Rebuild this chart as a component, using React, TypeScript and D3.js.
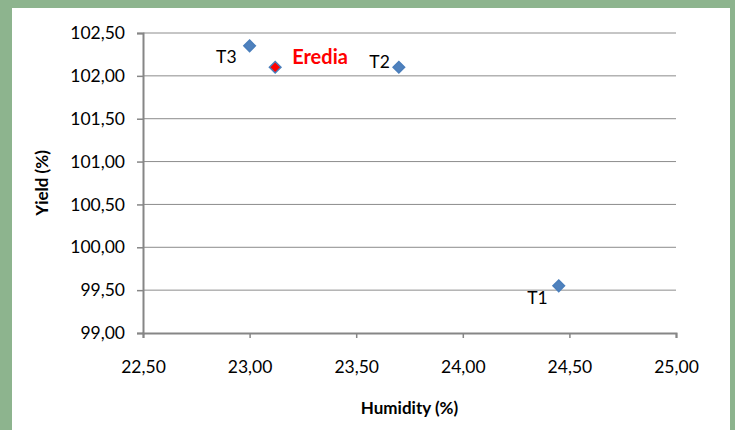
import * as d3 from 'd3';
import { useEffect, useRef } from 'react';

// values
const names = ['T1', 'T2', 'T3', 'Eredia'];
const humidity = [24.45, 23.7, 23.0, 23.12];
const yieldPct = [99.55, 102.1, 102.35, 102.1];
const xTicks = [22.5, 23.0, 23.5, 24.0, 24.5, 25.0];
const yTicks = [99.0, 99.5, 100.0, 100.5, 101.0, 101.5, 102.0, 102.5];

const W = 735;
const H = 430;
const margin = { top: 33, right: 59, bottom: 97, left: 143 };
const font = 'Lato, "Open Sans", sans-serif';
const fmt = (v: number) => v.toFixed(2).replace('.', ',');

const App = () => {
  const ref = useRef<SVGSVGElement>(null);

  useEffect(() => {
    const svg = d3.select(ref.current);
    svg.selectAll('*').remove();

    svg.append('rect').attr('width', W).attr('height', H).attr('fill', '#8db48e');
    svg.append('rect').attr('x', 12).attr('y', 8).attr('width', 718).attr('height', H - 8).attr('fill', '#fff');

    const x = d3.scaleLinear().domain([22.5, 25]).range([margin.left, W - margin.right]);
    const y = d3.scaleLinear().domain([99, 102.5]).range([H - margin.bottom, margin.top]);

    // gridlines
    svg.append('g')
      .selectAll('line')
      .data(yTicks.slice(1))
      .enter()
      .append('line')
      .attr('x1', x(22.5))
      .attr('x2', x(25))
      .attr('y1', (d) => y(d))
      .attr('y2', (d) => y(d))
      .attr('stroke', '#8c8c8c')
      .attr('stroke-width', 1);

    const yAxis = svg.append('g')
      .attr('transform', 'translate(' + x(22.5) + ',0)')
      .call(d3.axisLeft(y).tickValues(yTicks).tickFormat((d) => fmt(+d)).tickSize(6).tickPadding(12));
    const xAxis = svg.append('g')
      .attr('transform', 'translate(0,' + y(99) + ')')
      .call(d3.axisBottom(x).tickValues(xTicks).tickFormat((d) => fmt(+d)).tickSize(5).tickPadding(23));

    [yAxis, xAxis].forEach((a) => {
      a.select('.domain').attr('stroke', '#868686').attr('stroke-width', 2);
      a.selectAll('.tick line').attr('stroke', '#868686').attr('stroke-width', 1.5);
      a.selectAll('text').attr('font-family', font).attr('font-size', 17.5).attr('fill', '#000');
    });

    // axis titles
    svg.append('text')
      .attr('x', (x(22.5) + x(25)) / 2)
      .attr('y', 414)
      .attr('text-anchor', 'middle')
      .attr('font-family', font)
      .attr('font-weight', 'bold')
      .attr('font-size', 17)
      .text('Humidity (%)');
    svg.append('text')
      .attr('transform', 'translate(48,' + (y(99) + y(102.5)) / 2 + ') rotate(-90)')
      .attr('text-anchor', 'middle')
      .attr('font-family', font)
      .attr('font-weight', 'bold')
      .attr('font-size', 17)
      .text('Yield (%)');

    const pts = names.map((n, i) => ({ name: n, hx: humidity[i], yv: yieldPct[i] }));
    const diamond = d3.symbol().type(d3.symbolDiamond2).size(85);

    svg.append('g')
      .selectAll('path')
      .data(pts)
      .enter()
      .append('path')
      .attr('d', diamond)
      .attr('transform', (d) => 'translate(' + x(d.hx) + ',' + y(d.yv) + ')')
      .attr('fill', (d) => (d.name === 'Eredia' ? '#ff0000' : '#4f81bd'))
      .attr('stroke', '#4a7ebb')
      .attr('stroke-width', 1.5);

    // point labels
    const labelPos: Record<string, [number, number, string]> = {
      T3: [-13, 11, 'end'],
      T2: [-9, -5, 'end'],
      T1: [-11, 12, 'end'],
      Eredia: [17, -10, 'start'],
    };
    svg.append('g')
      .selectAll('text')
      .data(pts)
      .enter()
      .append('text')
      .attr('x', (d) => x(d.hx) + labelPos[d.name][0])
      .attr('y', (d) => y(d.yv) + labelPos[d.name][1])
      .attr('dy', '0.35em')
      .attr('text-anchor', (d) => labelPos[d.name][2])
      .attr('font-family', font)
      .attr('font-size', (d) => (d.name === 'Eredia' ? 20 : 17.5))
      .attr('font-weight', (d) => (d.name === 'Eredia' ? 'bold' : 'normal'))
      .attr('fill', (d) => (d.name === 'Eredia' ? '#ff0000' : '#000'))
      .text((d) => d.name);
  }, []);

  return <svg ref={ref} width={W} height={H} style={{ position: 'absolute', left: 0, top: 0 }}></svg>;
};

export default App;
